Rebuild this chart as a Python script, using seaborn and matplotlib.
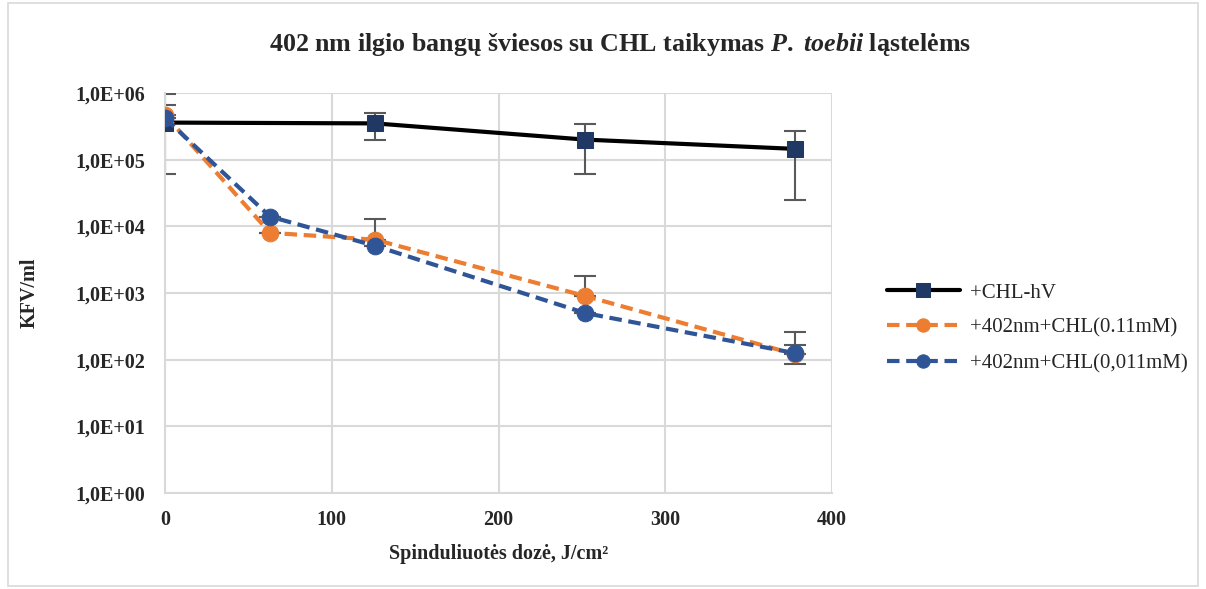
import numpy as np
import pandas as pd
import seaborn as sns
import matplotlib
matplotlib.use("Agg")
import matplotlib.pyplot as plt
from matplotlib.ticker import LogLocator, FixedLocator, FuncFormatter
from matplotlib.patches import Rectangle

# dose J/cm2
dose_dark = [0, 126, 252, 378]
dose_light = [0, 63, 126, 252, 378]

# CFU/ml
cfu_dark = [3.6e5, 3.5e5, 2.0e5, 1.45e5]
sd_dark = [3.0e5, 1.5e5, 1.4e5, 1.2e5]

cfu_011 = [4.7e5, 8.0e3, 6.3e3, 900, 120]
sd_011 = [5.0e5, 0, 6.5e3, 900, 140]   # plus side only

cfu_0011 = [4.2e5, 1.4e4, 5.1e3, 500, 125]
sd_0011 = [0, 0, 0, 0, 40]

labels = ["+CHL-hV", "+402nm+CHL(0.11mM)", "+402nm+CHL(0,011mM)"]
ytick_vals = [1e0, 1e1, 1e2, 1e3, 1e4, 1e5, 1e6]
ytick_labels = ["1,0E+00", "1,0E+01", "1,0E+02", "1,0E+03", "1,0E+04", "1,0E+05", "1,0E+06"]

df = pd.concat([
    pd.DataFrame({"dose": dose_dark, "cfu": cfu_dark, "serie": labels[0]}),
    pd.DataFrame({"dose": dose_light, "cfu": cfu_011, "serie": labels[1]}),
    pd.DataFrame({"dose": dose_light, "cfu": cfu_0011, "serie": labels[2]}),
])

sns.set_style("white")
plt.rcParams["font.family"] = ["Liberation Serif", "DejaVu Serif"]
plt.rcParams["mathtext.fontset"] = "custom"
plt.rcParams["mathtext.it"] = "Liberation Serif:italic:bold"
plt.rcParams["mathtext.rm"] = "Liberation Serif:bold"

fig = plt.figure(figsize=(12.06, 5.89), dpi=100)
ax = fig.add_axes([165 / 1206, 1 - 493 / 589, (832 - 165) / 1206, (493 - 93) / 589])

ecol = "#595959"
orange = "#ED7D31"
blue = "#2F5597"

# error bars first so markers sit on top
ax.errorbar(dose_dark, cfu_dark, yerr=[sd_dark, sd_dark], fmt="none",
            ecolor=ecol, elinewidth=1.5, capsize=8, capthick=1.5, zorder=2)
ax.errorbar(dose_light, cfu_011, yerr=[[0] * 5, sd_011], fmt="none",
            ecolor=ecol, elinewidth=1.5, capsize=8, capthick=1.5, zorder=2)
ax.errorbar(dose_light, cfu_0011, yerr=[sd_0011, sd_0011], fmt="none",
            ecolor=ecol, elinewidth=1.5, capsize=8, capthick=1.5, zorder=2)

sns.lineplot(data=df, x="dose", y="cfu", hue="serie", style="serie",
             hue_order=labels, style_order=labels,
             palette=["#000000", orange, blue],
             dashes=[(None, None), (3, 1.6), (3, 1.6)],
             markers=["s", "o", "o"], markersize=12, linewidth=3,
             ax=ax, zorder=3, legend=False)

# marker colours like Excel: navy square for the black line
for ln, mc in zip(ax.get_lines()[-3:], ["#1F3864", orange, blue]):
    ln.set_markerfacecolor(mc)
    ln.set_markeredgecolor(mc)

ax.set_yscale("log")
ax.set_ylim(1, 1e6)
ax.set_xlim(0, 400)
ax.yaxis.set_major_locator(FixedLocator(ytick_vals))
ax.set_yticklabels(ytick_labels)
ax.yaxis.set_minor_locator(LogLocator(base=10, subs=np.arange(2, 10)))
ax.yaxis.set_minor_formatter(FuncFormatter(lambda v, p: ""))
ax.set_xticks([0, 100, 200, 300, 400])

ax.grid(True, which="major", color="#D9D9D9", linewidth=1.5)
for s in ["top", "right"]:
    ax.spines[s].set_visible(False)
for s in ["left", "bottom"]:
    ax.spines[s].set_color("#D9D9D9")
    ax.spines[s].set_linewidth(1.5)
ax.tick_params(axis="y", which="major", length=0, pad=14, labelsize=14.5)
ax.tick_params(axis="x", which="major", length=0, pad=12, labelsize=14.5)
ax.tick_params(axis="y", which="minor", direction="in", length=5, width=1.2, color="#A6A6A6")
for t in ax.get_xticklabels() + ax.get_yticklabels():
    t.set_fontweight("bold")

ax.set_xlabel("Spinduliuotės dozė, J/cm²", fontsize=14.5, fontweight="bold", labelpad=10)
ax.set_ylabel("KFV/ml", fontsize=14.5, fontweight="bold", labelpad=26)

fig.text(620 / 1206, 1 - 45 / 589,
         r"402 nm ilgio bangų šviesos su CHL taikymas $P.$ $toebii$ ląstelėms",
         ha="center", va="center", fontsize=18.7, fontweight="bold")

# legend handles
handles = [ax.get_lines()[-3], ax.get_lines()[-2], ax.get_lines()[-1]]
fig.legend(handles, labels, loc="center left", bbox_to_anchor=(868 / 1206, 1 - 328 / 589),
           frameon=False, fontsize=15, handlelength=3.5, labelspacing=0.75,
           handletextpad=0.5, markerscale=0.8)

fig.patches.append(Rectangle((8 / 1206, 0.005), 1190 / 1206, 0.99, transform=fig.transFigure,
                             fill=False, edgecolor="#D9D9D9", linewidth=1.2))

fig.savefig("out.png", dpi=100)
